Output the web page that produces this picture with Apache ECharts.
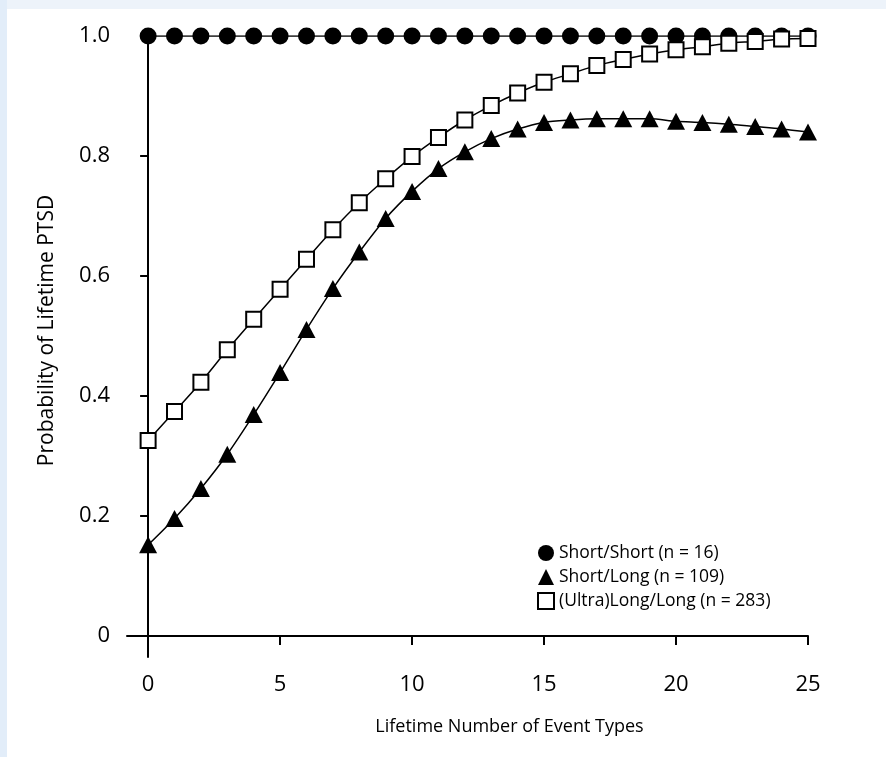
<!DOCTYPE html>
<html>
<head>
<meta charset="utf-8">
<script src="https://cdn.jsdelivr.net/npm/echarts@6/dist/echarts.min.js"></script>
<style>html,body{margin:0;padding:0;background:#fff;}#c{width:886px;height:757px;}</style>
</head>
<body>
<div id="c"></div>
<script>
const eventTypes = [0,1,2,3,4,5,6,7,8,9,10,11,12,13,14,15,16,17,18,19,20,21,22,23,24,25];
const shortShort = [1,1,1,1,1,1,1,1,1,1,1,1,1,1,1,1,1,1,1,1,1,1,1,1,1,1];
const shortLong = [0.152,0.196,0.246,0.303,0.369,0.439,0.511,0.579,0.64,0.696,0.741,0.779,0.807,0.829,0.845,0.856,0.86,0.862,0.862,0.862,0.858,0.856,0.853,0.849,0.845,0.84];
const ultraLong = [0.326,0.374,0.423,0.477,0.528,0.578,0.628,0.677,0.722,0.762,0.799,0.831,0.86,0.884,0.905,0.923,0.937,0.951,0.961,0.970,0.977,0.982,0.988,0.991,0.995,0.996];
const xTicks = [0,5,10,15,20,25];
const yTicks = [0,0.2,0.4,0.6,0.8,1.0];
const yTickLabels = ['0','0.2','0.4','0.6','0.8','1.0'];
const seriesNames = ['Short/Short (n = 16)','Short/Long (n = 109)','(Ultra)Long/Long (n = 283)'];

const FONT = '"Open Sans", "Noto Sans", sans-serif';
const pair = arr => eventTypes.map((x,i)=>[x,arr[i]]);

const chart = echarts.init(document.getElementById('c'), null, {renderer:'canvas'});
chart.setOption({
  backgroundColor:'#ffffff',
  animation:false,
  graphic:[
    {type:'rect', shape:{x:0,y:0,width:886,height:9}, style:{fill:'#edf3fa'}, z:-10},
    {type:'rect', shape:{x:0,y:0,width:7,height:757}, style:{fill:'#e2edf9'}, z:-10}
  ],
  grid:{left:127, right:78, top:36, bottom:100},
  xAxis:{
    type:'value', min:-0.8, max:25,
    name:'Lifetime Number of Event Types', nameLocation:'middle', nameGap:61,
    nameTextStyle:{fontFamily:FONT, fontSize:18, color:'#000', padding:[0,0,0,84]},
    axisLine:{show:true, lineStyle:{color:'#000', width:2}},
    axisTick:{show:true, customValues:xTicks, length:9, lineStyle:{color:'#000', width:2}},
    axisLabel:{customValues:xTicks, fontFamily:FONT, fontSize:22, color:'#000', margin:17},
    splitLine:{show:false}
  },
  yAxis:{
    type:'value', min:-0.035, max:1.0,
    name:'Probability of Lifetime PTSD', nameLocation:'middle', nameGap:69,
    nameTextStyle:{fontFamily:FONT, fontSize:21, color:'#000', padding:[0,0,0,32]},
    axisLine:{show:true, lineStyle:{color:'#000', width:2}},
    axisTick:{show:true, customValues:yTicks, length:8, lineStyle:{color:'#000', width:2}},
    axisLabel:{customValues:yTicks, fontFamily:FONT, fontSize:22, color:'#000', margin:17,
      formatter:v=>{const i=yTicks.findIndex(t=>Math.abs(t-v)<1e-6);return i>=0?yTickLabels[i]:'';}},
    splitLine:{show:false}
  },
  legend:{
    orient:'vertical', left:532, top:539, itemGap:6, itemWidth:16, itemHeight:16,
    textStyle:{fontFamily:FONT, fontSize:17.5, color:'#000'},
    data:[
      {name:seriesNames[0], icon:'circle'},
      {name:seriesNames[1], icon:'triangle'},
      {name:seriesNames[2], icon:'rect', itemStyle:{color:'#fff', borderColor:'#000', borderWidth:2}}
    ]
  },
  series:[
    {name:seriesNames[0], type:'line', data:pair(shortShort), symbol:'circle', symbolSize:17,
      lineStyle:{color:'#000', width:1.5}, itemStyle:{color:'#000'}, z:2},
    {name:seriesNames[1], type:'line', data:pair(shortLong), smooth:0.3, symbol:'triangle', symbolSize:[18,17],
      lineStyle:{color:'#000', width:1.5}, itemStyle:{color:'#000'}, z:3},
    {name:seriesNames[2], type:'line', data:pair(ultraLong), smooth:0.3, symbol:'rect', symbolSize:15,
      lineStyle:{color:'#000', width:1.5}, itemStyle:{color:'#fff', borderColor:'#000', borderWidth:2}, z:4}
  ]
});
</script>
</body>
</html>
